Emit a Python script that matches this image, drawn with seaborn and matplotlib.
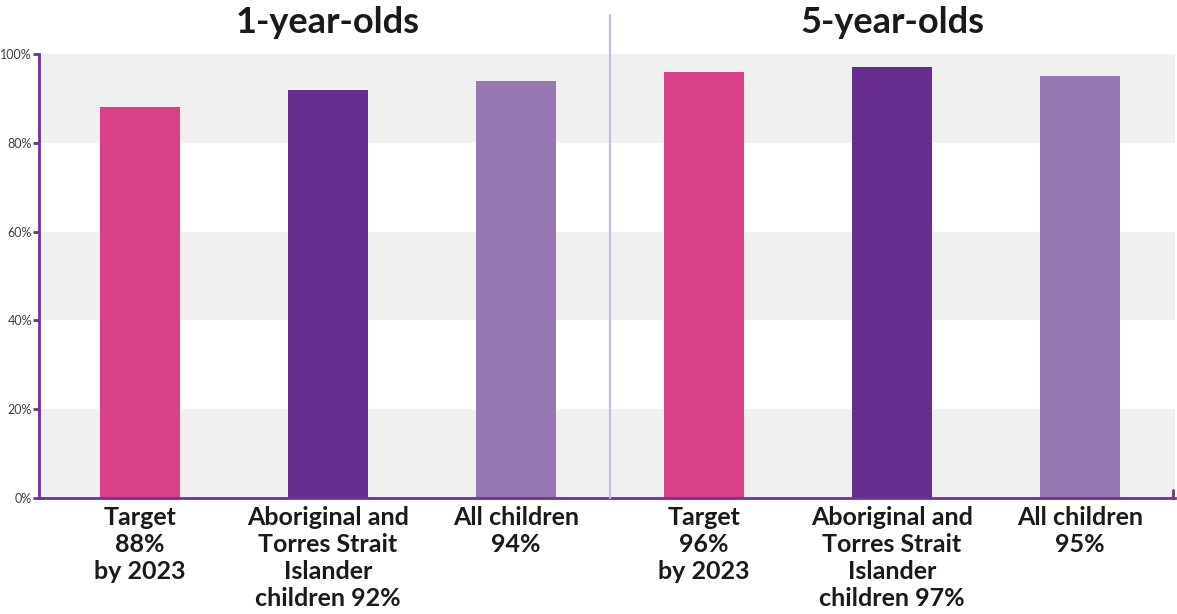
import matplotlib
matplotlib.use("Agg")
import matplotlib.pyplot as plt
import seaborn as sns
import pandas as pd

# Immunisation coverage by age group
groups = ["1-year-olds", "5-year-olds"]
categories = ["Target", "Aboriginal and Torres Strait Islander children", "All children"]
values_1yr = [88, 92, 94]
values_5yr = [96, 97, 95]
labels_1yr = ["Target\n88%\nby 2023", "Aboriginal and\nTorres Strait\nIslander\nchildren 92%", "All children\n94%"]
labels_5yr = ["Target\n96%\nby 2023", "Aboriginal and\nTorres Strait\nIslander\nchildren 97%", "All children\n95%"]
yticks = [0, 20, 40, 60, 80, 100]

colors = {"Target": "#D94088",
          "Aboriginal and Torres Strait Islander children": "#662D8F",
          "All children": "#9778B3"}
axis_purple = "#7030A0"

df = pd.DataFrame({
    "label": labels_1yr + labels_5yr,
    "value": values_1yr + values_5yr,
    "category": categories * 2,
    "group": [groups[0]] * 3 + [groups[1]] * 3,
})

sns.set_theme(style="white")
plt.rcParams["font.family"] = ["Lato", "DejaVu Sans"]

fig = plt.figure(figsize=(11.77, 6.14), dpi=100)
ax = fig.add_axes([39 / 1177, 1 - 498 / 614, (1175 - 39) / 1177, 444 / 614])

# alternating background bands
for lo in (0, 40, 80):
    ax.axhspan(lo, lo + 20, color="#F0F0F0", zorder=0, lw=0)

sns.barplot(data=df, x="label", y="value", hue="category", palette=colors,
            dodge=False, width=0.43, order=df["label"], legend=False,
            saturation=1, linewidth=0, edgecolor="none", ax=ax, zorder=2)

ax.set_xlim(-0.537, 5.505)
ax.set_ylim(0, 100)
ax.set_yticks(yticks)
ax.set_yticklabels([f"{t}%" for t in yticks], fontsize=9, color="#404040")
ax.set_xlabel("")
ax.set_ylabel("")
ax.tick_params(axis="y", direction="out", length=4, width=2, color=axis_purple, pad=1, left=True)
ax.tick_params(axis="x", length=0, pad=6)
for t in ax.get_xticklabels():
    t.set_fontsize(18)
    t.set_fontweight("bold")
    t.set_color("#1a1a1a")
    t.set_linespacing(1.2)
    t.set_verticalalignment("top")

for side in ("top", "right"):
    ax.spines[side].set_visible(False)
for side in ("left", "bottom"):
    ax.spines[side].set_color(axis_purple)
    ax.spines[side].set_linewidth(2)

# small end tick on the baseline
ax.axvline(5.497, ymin=0, ymax=0.018, color=axis_purple, lw=2, clip_on=False)

# divider between the age groups
sep = 2.5
ax.plot([sep, sep], [0, 108.8], color="#C9B8DD", lw=1.5, clip_on=False, zorder=3)

# group headings
for center, name in zip((1, 4), groups):
    ax.text(center, 107.0, name, ha="center", va="center", fontsize=26,
            fontweight="bold", color="#1a1a1a")

fig.savefig("out.png", dpi=100)
